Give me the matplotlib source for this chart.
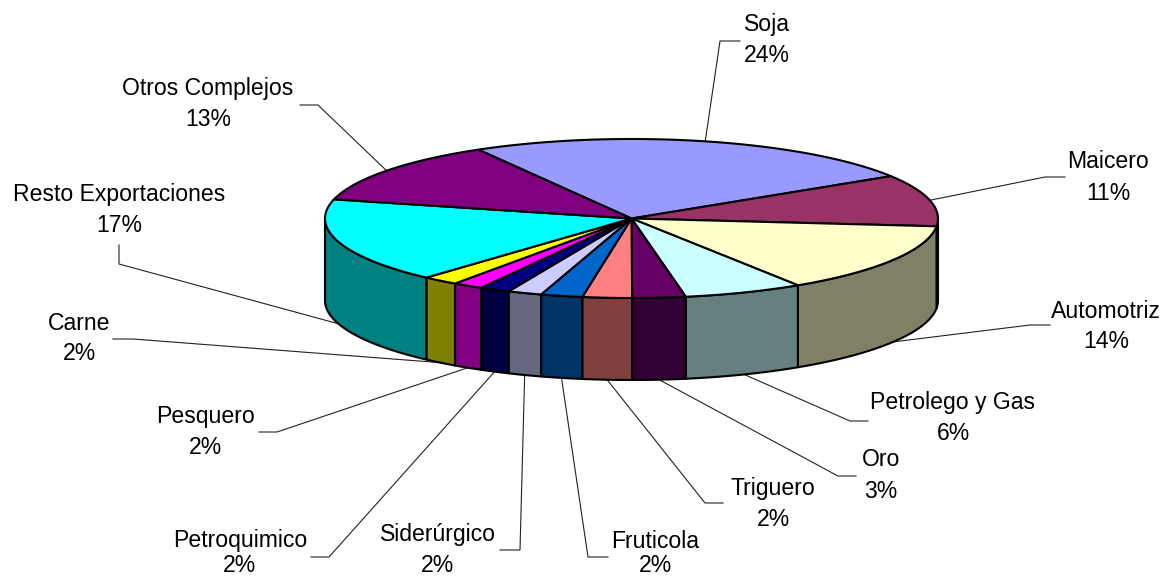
import numpy as np
import matplotlib
matplotlib.use('Agg')
import matplotlib.pyplot as plt

plt.rcParams['font.family'] = ['Liberation Sans', 'DejaVu Sans']

names = ['Soja', 'Maicero', 'Automotriz', 'Petrolego y Gas', 'Oro', 'Triguero', 'Fruticola',
         'Siderúrgico', 'Petroquimico', 'Pesquero', 'Carne', 'Resto Exportaciones', 'Otros Complejos']
shares = [24.4, 10.5, 14.3, 6.3, 2.8, 2.6, 2.2, 1.8, 1.6, 1.6, 1.9, 17.2, 12.8]
pct_text = ['24%', '11%', '14%', '6%', '3%', '2%', '2%', '2%', '2%', '2%', '2%', '17%', '13%']

top_colors = ['#9999FF', '#993366', '#FFFFCC', '#CCFFFF', '#660066', '#FF8080', '#0066CC',
              '#CCCCFF', '#000080', '#FF00FF', '#FFFF00', '#00FFFF', '#800080']
side_colors = ['#4D4D80', '#4D1A33', '#808066', '#668080', '#330033', '#804040', '#003366',
               '#666680', '#000040', '#800080', '#808000', '#008080', '#400040']

# label centre x, y of the two text lines
label_pos = [(767, 25, 56), (1108, 162, 193), (1106, 311, 341), (953, 403, 434), (881, 460, 491),
             (773, 488, 519), (655, 541, 566), (438, 535, 566), (240, 541, 566), (206, 416, 447),
             (79, 323, 354), (119, 195, 226), (208, 88, 119)]
# elbows of the leader lines, from the pie to the label
leader_bends = [[(720, 41), (740, 41)], [(1045, 177), (1065, 177)], [(1030, 325), (1050, 325)],
                [(850, 421), (868, 421)], [(838, 476), (856, 476)], [(705, 503), (723, 503)],
                [(588, 557), (608, 557)], [(520, 550), (500, 550)], [(329, 557), (311, 557)],
                [(277, 432), (259, 432)], [(133, 339), (113, 339)], [(119, 264), (119, 245)],
                [(318, 105), (300, 105)]]

cx, cy = 631.5, 218.5
rx, ry = 306.5, 79.5
depth = 82
start_angle = -30


def rim(deg, drop=0):
    rad = np.radians(deg)
    return cx + rx * np.sin(rad), cy - ry * np.cos(rad) + drop


fig = plt.figure(figsize=(11.63, 5.78), dpi=100, facecolor='white')
ax = fig.add_axes([0, 0, 1, 1])
ax.set_xlim(0, 1163)
ax.set_ylim(578, 0)
ax.axis('off')

edges = start_angle + 3.6 * np.cumsum([0] + shares)

# side walls, only the front half of the disc shows
for i in range(len(shares)):
    a0, a1 = max(edges[i], 90), min(edges[i + 1], 270)
    if a1 <= a0:
        continue
    t = np.linspace(a0, a1, 80)
    xs, ys = rim(t)
    ax.fill(np.r_[xs, xs[::-1]], np.r_[ys, ys[::-1] + depth], facecolor=side_colors[i],
            edgecolor='black', linewidth=1.5, joinstyle='round', zorder=2)

# top face
for i in range(len(shares)):
    t = np.linspace(edges[i], edges[i + 1], 80)
    xs, ys = rim(t)
    ax.fill(np.r_[cx, xs], np.r_[cy, ys], facecolor=top_colors[i],
            edgecolor='black', linewidth=1.5, joinstyle='round', zorder=3)

# leaders and labels
for i, name in enumerate(names):
    mid = (edges[i] + edges[i + 1]) / 2
    on_front = 90 < (mid % 360) < 270
    x0, y0 = rim(mid, depth if on_front else 0)
    px = [x0] + [p[0] for p in leader_bends[i]]
    py = [y0] + [p[1] for p in leader_bends[i]]
    ax.plot(px, py, color='#222222', linewidth=0.8, zorder=1)
    xc, y1, y2 = label_pos[i]
    ax.text(xc, y1, name, ha='center', va='center', fontsize=16.6, color='black')
    ax.text(xc, y2, pct_text[i], ha='center', va='center', fontsize=16.6, color='black')

fig.savefig('out.png', dpi=100)
